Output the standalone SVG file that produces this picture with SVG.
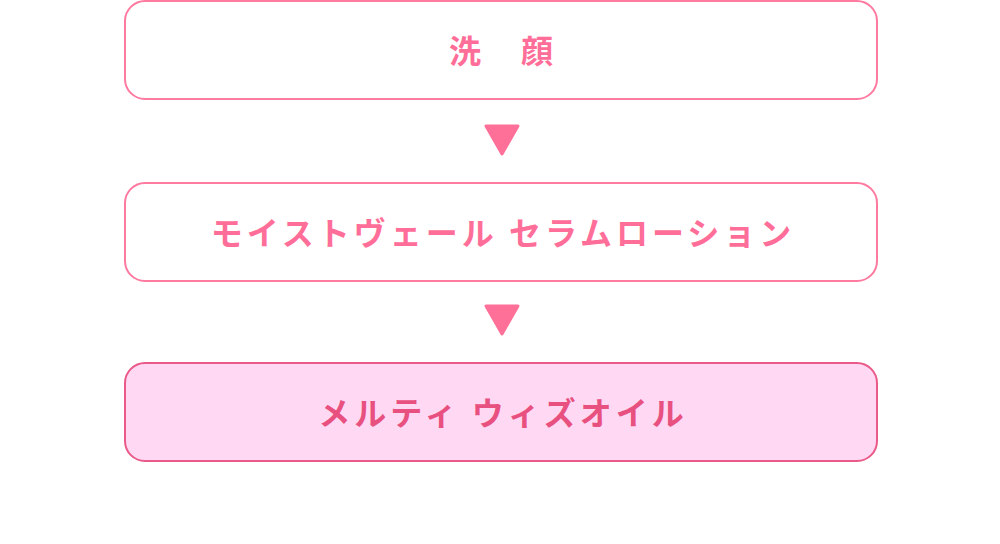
<svg xmlns="http://www.w3.org/2000/svg" width="1000" height="544" viewBox="0 0 1000 544">
<style>
.box{fill:#ffffff;stroke:#ff7aa0;stroke-width:2}
.box.hl{fill:#ffd8f4;stroke:#ea5a88}
.lbl{font-family:"Noto Sans CJK JP","Noto Sans",sans-serif;font-weight:bold;font-size:32px;letter-spacing:4px;fill:#ff6e98;text-anchor:middle;dominant-baseline:central}
.lbl.hl{fill:#e8507f}
.arr{fill:#ff7099;stroke:#ff7099;stroke-width:3;stroke-linejoin:round}
</style>
<rect width="1000" height="544" fill="#ffffff"/>
<g id="node1">
<rect class="box" x="125" y="1" width="752" height="98" rx="20"/>
<text class="lbl" x="503" y="49">洗　顔</text>
</g>
<g id="node2">
<rect class="box" x="125" y="183" width="752" height="98" rx="20"/>
<text class="lbl" x="503" y="231">モイストヴェール セラムローション</text>
</g>
<g id="node3">
<rect class="box hl" x="125" y="363" width="752" height="98" rx="20"/>
<text class="lbl hl" x="503" y="411">メルティ ウィズオイル</text>
</g>
<g id="connectors">
<polygon class="arr" points="486,126 518,126 502,154"/>
<polygon class="arr" points="486,306 518,306 502,334"/>
</g>
</svg>
